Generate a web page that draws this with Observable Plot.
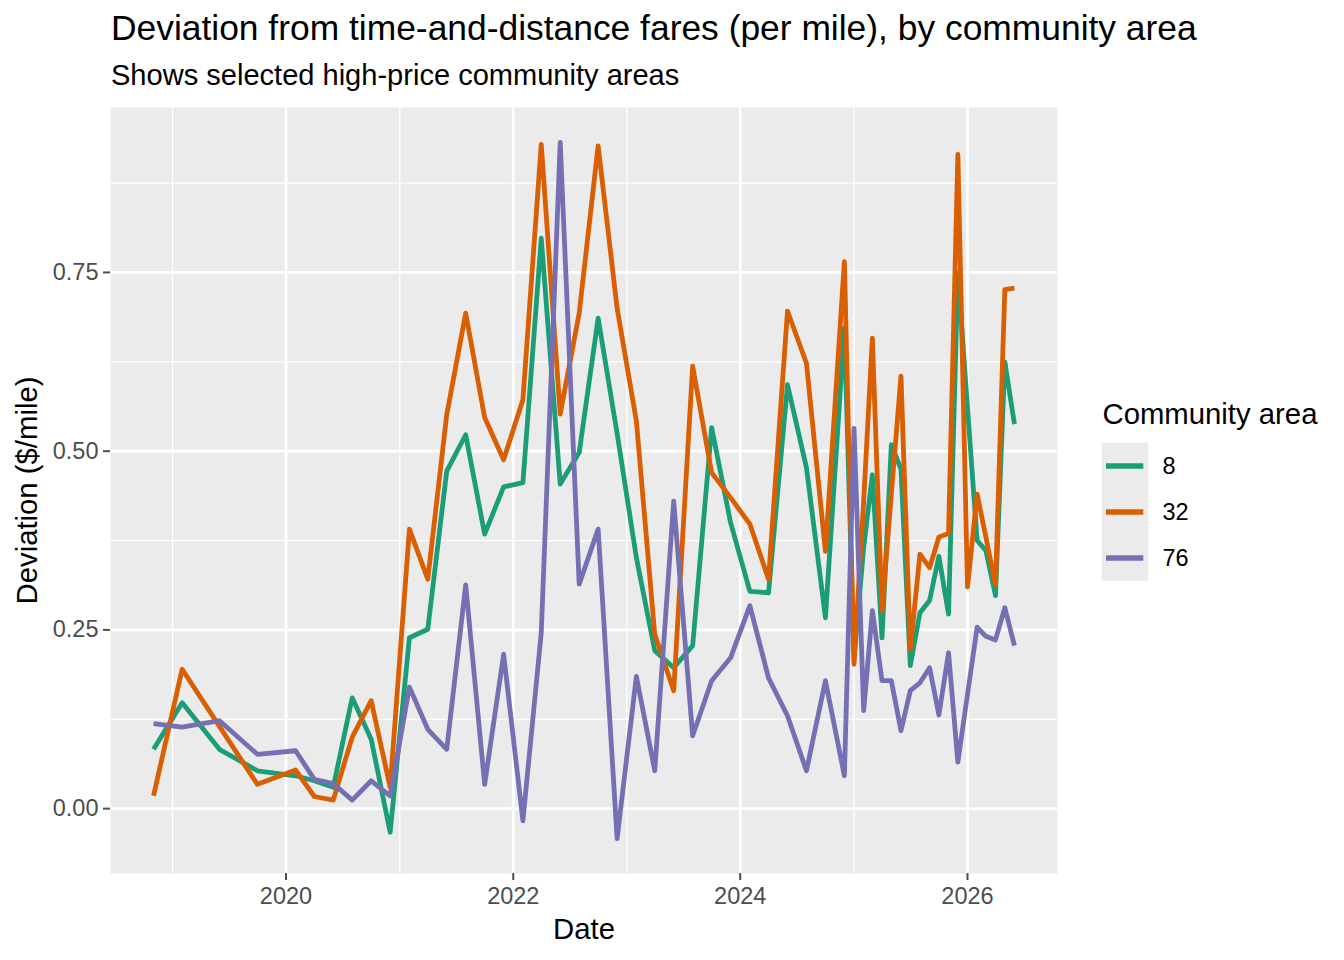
<!DOCTYPE html>
<html>
<head>
<meta charset="utf-8">
<script src="https://cdn.jsdelivr.net/npm/d3@7"></script>
<script src="https://cdn.jsdelivr.net/npm/@observablehq/plot@0.6"></script>
<style>
  html, body { margin: 0; padding: 0; background: #ffffff; }
  #wrap { position: relative; width: 1344px; height: 960px; font-family: "Liberation Sans", Arial, Helvetica, sans-serif; color: #000; }
  .ttl { position: absolute; left: 111px; top: 11px; font-size: 35.4px; line-height: 1; white-space: nowrap; }
  .sub { position: absolute; left: 111px; top: 61.2px; font-size: 29.05px; line-height: 1; white-space: nowrap; }
  #chart { position: absolute; left: 0; top: 100px; }
  #legend { position: absolute; left: 1090px; top: 390px; }
</style>
</head>
<body>
<div id="wrap">
  <div class="ttl">Deviation from time-and-distance fares (per mile), by community area</div>
  <div class="sub">Shows selected high-price community areas</div>
  <div id="chart"></div>
  <div id="legend"></div>
</div>
<script>
// ---- data ----
const dates = [
  "2018-11-01","2019-02-01","2019-06-01","2019-10-01","2020-02-01","2020-04-01","2020-06-01","2020-08-01",
  "2020-10-01","2020-12-01","2021-02-01","2021-04-01","2021-06-01","2021-08-01","2021-10-01","2021-12-01",
  "2022-02-01","2022-04-01","2022-06-01","2022-08-01","2022-10-01","2022-12-01","2023-02-01","2023-04-01",
  "2023-06-01","2023-08-01","2023-10-01","2023-12-01","2024-02-01","2024-04-01","2024-06-01","2024-08-01",
  "2024-10-01","2024-12-01","2025-01-01","2025-02-01","2025-03-01","2025-04-01","2025-05-01","2025-06-01",
  "2025-07-01","2025-08-01","2025-09-01","2025-10-01","2025-11-01","2025-12-01","2026-01-01","2026-02-01",
  "2026-03-01","2026-04-01","2026-05-01","2026-06-01"
];
const area8 = [
  0.083, 0.148, 0.083, 0.053, 0.046, 0.039, 0.030, 0.155,
  0.097, -0.033, 0.239, 0.251, 0.472, 0.523, 0.384, 0.450,
  0.456, 0.798, 0.454, 0.498, 0.686, 0.525, 0.351, 0.221,
  0.197, 0.228, 0.533, 0.400, 0.304, 0.302, 0.593, 0.477,
  0.267, 0.672, 0.210, 0.365, 0.467, 0.239, 0.509, 0.475,
  0.200, 0.274, 0.291, 0.353, 0.272, 0.750, 0.560, 0.375,
  0.361, 0.298, 0.625, 0.538
];
const area32 = [
  0.018, 0.195, 0.115, 0.034, 0.054, 0.017, 0.012, 0.100,
  0.151, 0.030, 0.391, 0.321, 0.551, 0.693, 0.547, 0.488,
  0.572, 0.929, 0.552, 0.693, 0.927, 0.700, 0.542, 0.244,
  0.165, 0.619, 0.470, 0.435, 0.398, 0.321, 0.696, 0.623,
  0.360, 0.765, 0.202, 0.430, 0.658, 0.277, 0.440, 0.605,
  0.223, 0.356, 0.337, 0.380, 0.385, 0.915, 0.310, 0.440,
  0.380, 0.313, 0.726, 0.728
];
const area76 = [
  0.119, 0.114, 0.123, 0.076, 0.081, 0.041, 0.035, 0.012,
  0.039, 0.018, 0.170, 0.111, 0.083, 0.313, 0.034, 0.216,
  -0.017, 0.246, 0.932, 0.314, 0.391, -0.042, 0.185, 0.053,
  0.430, 0.102, 0.179, 0.211, 0.284, 0.183, 0.130, 0.053,
  0.179, 0.046, 0.532, 0.137, 0.277, 0.179, 0.179, 0.109,
  0.165, 0.176, 0.197, 0.131, 0.218, 0.065, 0.160, 0.254,
  0.241, 0.236, 0.281, 0.228
];
const categories = ["8", "32", "76"];
const colors = ["#1B9E77", "#D95F02", "#7570B3"];
const xMajorTicks = ["2020-01-01", "2022-01-01", "2024-01-01", "2026-01-01"];
const xMinorTicks = ["2019-01-01", "2021-01-01", "2023-01-01", "2025-01-01"];
const yMajorTicks = [0, 0.25, 0.5, 0.75];
const yMinorTicks = [0.125, 0.375, 0.625, 0.875];

// ---- build table ----
const seriesValues = [area8, area32, area76];
const rows = [];
categories.forEach((c, k) => {
  dates.forEach((d, i) => rows.push({date: new Date(d), value: seriesValues[k][i], area: c}));
});
const parse = s => new Date(s);

// ggplot-like 5% expansion
function expand(ext) { const r = ext[1] - ext[0]; return [ext[0] - 0.05 * r, ext[1] + 0.05 * r]; }
const xExt = d3.extent(rows, d => +d.date);
const xDom = expand(xExt).map(v => new Date(v));
const yDom = expand(d3.extent(rows, d => d.value));

const FONT = "'Liberation Sans', Arial, Helvetica, sans-serif";

const chart = Plot.plot({
  width: 1070,
  height: 860,
  marginLeft: 110,
  marginRight: 13,
  marginTop: 7,
  marginBottom: 87,
  style: {fontFamily: FONT, fontSize: "23.5px", background: "transparent", overflow: "visible", color: "#4D4D4D"},
  x: {type: "utc", domain: xDom},
  y: {domain: yDom},
  color: {domain: categories, range: colors},
  marks: [
    Plot.frame({fill: "#EBEBEB", stroke: "none"}),
    Plot.ruleX(xMinorTicks.map(parse), {stroke: "#ffffff", strokeWidth: 1.3}),
    Plot.ruleY(yMinorTicks, {stroke: "#ffffff", strokeWidth: 1.3}),
    Plot.ruleX(xMajorTicks.map(parse), {stroke: "#ffffff", strokeWidth: 2.7}),
    Plot.ruleY(yMajorTicks, {stroke: "#ffffff", strokeWidth: 2.7}),
    Plot.axisX({ticks: xMajorTicks.map(parse), tickFormat: d3.utcFormat("%Y"), tickSize: 7, tickPadding: 7, label: null, strokeWidth: 2, color: "#4D4D4D"}),
    Plot.axisY({ticks: yMajorTicks, tickFormat: d3.format(".2f"), tickSize: 7, tickPadding: 5, label: null, strokeWidth: 2, color: "#4D4D4D"}),
    Plot.line(rows, {x: "date", y: "value", z: "area", stroke: "area", strokeWidth: 4.8, strokeLinejoin: "round", strokeLinecap: "butt"}),
    Plot.text(["Date"], {frameAnchor: "bottom", lineAnchor: "middle", textAnchor: "middle", dy: 56.5, fontSize: 29.3, fill: "#000000", fontFamily: FONT}),
    Plot.text(["Deviation ($/mile)"], {frameAnchor: "left", lineAnchor: "middle", textAnchor: "middle", dx: -82.5, rotate: -90, fontSize: 29.3, fill: "#000000", fontFamily: FONT})
  ]
});
document.getElementById("chart").appendChild(chart);

// ---- legend ----
const lg = d3.select("#legend").append("svg").attr("width", 254).attr("height", 200)
  .style("font-family", FONT).style("overflow", "visible");
lg.append("text").attr("x", 12.5).attr("y", 34.3).attr("font-size", 29.3).attr("fill", "#000").text("Community area");
categories.forEach((c, i) => {
  const y0 = 52.7 + i * 46;
  lg.append("rect").attr("x", 11.7).attr("y", y0).attr("width", 46.6).attr("height", 46).attr("fill", "#EBEBEB");
  lg.append("line").attr("x1", 16).attr("x2", 53.3).attr("y1", y0 + 23.3).attr("y2", y0 + 23.3)
    .attr("stroke", colors[i]).attr("stroke-width", 5.5);
  lg.append("text").attr("x", 72.5).attr("y", y0 + 31.5).attr("font-size", 23.5).attr("fill", "#000").text(c);
});
</script>
</body>
</html>
